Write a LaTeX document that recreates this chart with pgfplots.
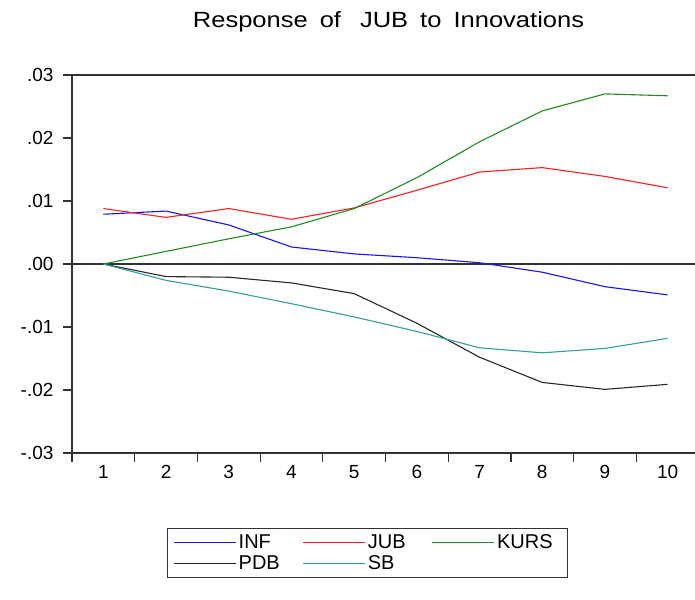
\documentclass[border=0pt]{standalone}
\usepackage{fontspec}
\setmainfont{Liberation Sans}
\newfontfamily\titlefont{Liberation Sans}[FakeStretch=1.16]
\usepackage{pgfplots}
\pgfplotsset{compat=1.18}
\definecolor{cinf}{RGB}{20,20,255}
\definecolor{cjub}{RGB}{255,30,30}
\definecolor{ckurs}{RGB}{30,140,30}
\definecolor{cpdb}{RGB}{40,40,40}
\definecolor{csb}{RGB}{50,160,160}
\definecolor{caxis}{RGB}{50,50,50}
\begin{document}
\begin{tikzpicture}
\begin{axis}[
  name=ax, scale only axis, width=627bp, height=378bp,
  xmin=0.5, xmax=10.5, ymin=-0.03, ymax=0.03,
  axis x line*=bottom, axis y line*=left,
  axis line style={caxis, line width=1.2bp},
  xtick={1,...,10},
  minor xtick={0.5,1.5,...,10.5},
  major x tick style={draw=none},
  ytick={-0.03,-0.02,-0.01,0,0.01,0.02,0.03},
  yticklabels={-.03,-.02,-.01,.00,.01,.02,.03},
  ytick scale label code/.code={},
  tick align=outside, major tick length=9bp, minor tick length=9bp,
  tick style={caxis, line width=1.2bp},
  ticklabel style={font=\fontsize{19bp}{22bp}\selectfont, text=black},
  yticklabel style={xshift=-6bp},
  /pgf/number format/assume math mode=true,
  clip=false,
  legend columns=3,
  legend style={at={(rel axis cs:0,0)}, anchor=north west, xshift=95bp, yshift=-75bp,
    draw=caxis, line width=1bp, font=\fontsize{20bp}{24bp}\selectfont,
    inner xsep=6bp, inner ysep=4bp, row sep=2bp,
    /tikz/every even column/.append style={column sep=0bp}},
  legend cell align=left,
  legend image code/.code={\draw[#1,line width=1.2bp] (0bp,0bp) -- (62bp,0bp);},
]
\draw[caxis, line width=1.2bp] (axis cs:0.5,0) -- (axis cs:10.5,0);
\addplot[cinf, line width=1.1bp, sharp plot] coordinates {
(1,0.0079) (2,0.0084) (3,0.0062) (4,0.0027) (5,0.0016) (6,0.0010) (7,0.0002) (8,-0.0013) (9,-0.0036) (10,-0.0049)};
\addlegendentry{\makebox[62bp][l]{INF}}
\addplot[cjub, line width=1.1bp, sharp plot] coordinates {
(1,0.0088) (2,0.0074) (3,0.0088) (4,0.0071) (5,0.0089) (6,0.0117) (7,0.0146) (8,0.0153) (9,0.0139) (10,0.0121)};
\addlegendentry{\makebox[62bp][l]{JUB}}
\addplot[ckurs, line width=1.1bp, sharp plot] coordinates {
(1,0) (2,0.0020) (3,0.0040) (4,0.0059) (5,0.0088) (6,0.0137) (7,0.0194) (8,0.0243) (9,0.0270) (10,0.0267)};
\addlegendentry{\makebox[62bp][l]{KURS}}
\addplot[cpdb, line width=1.1bp, sharp plot] coordinates {
(1,0) (2,-0.0020) (3,-0.0021) (4,-0.0030) (5,-0.0047) (6,-0.0094) (7,-0.0148) (8,-0.0188) (9,-0.0199) (10,-0.0191)};
\addlegendentry{\makebox[62bp][l]{PDB}}
\addplot[csb, line width=1.1bp, sharp plot] coordinates {
(1,0) (2,-0.0026) (3,-0.0043) (4,-0.0063) (5,-0.0084) (6,-0.0107) (7,-0.0133) (8,-0.0141) (9,-0.0134) (10,-0.0118)};
\addlegendentry{\makebox[62bp][l]{SB}}
\end{axis}
\draw[caxis, line width=1.2bp] ([xshift=-9bp]ax.north west) -- (ax.north east);
\node[font=\titlefont\fontsize{22bp}{26bp}\selectfont, anchor=base] at ([xshift=3bp,yshift=47bp]ax.north) {Response\hspace{12bp}of\hspace{19bp}JUB\hspace{12bp}to\hspace{12bp}Innovations};
\pgfresetboundingbox
\path[use as bounding box] ([shift={(-72bp,-147bp)}]ax.south west) rectangle ([shift={(-4bp,75bp)}]ax.north east);
\end{tikzpicture}
\end{document}
